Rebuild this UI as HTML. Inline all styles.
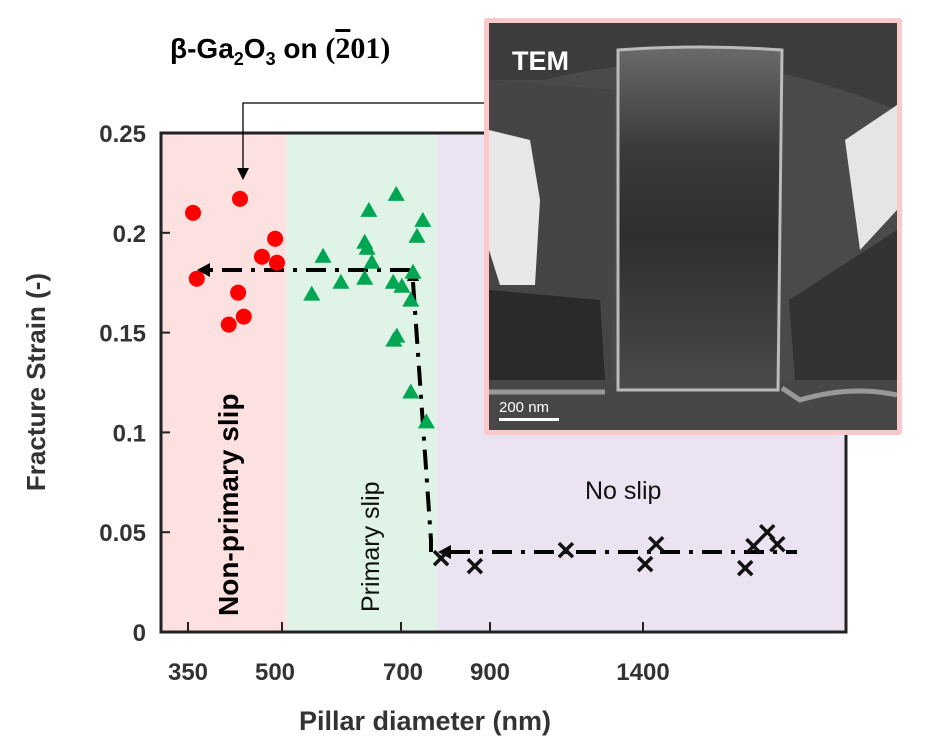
<!DOCTYPE html>
<html><head><meta charset="utf-8"><style>
body{margin:0;background:#fff;width:929px;height:756px;overflow:hidden;font-family:"Liberation Sans",sans-serif}
svg{position:absolute;left:0;top:0}
</style></head><body>
<svg width="929" height="756">
<defs>
<linearGradient id="pill" x1="0" y1="0" x2="0" y2="1"><stop offset="0" stop-color="#6a6a6a"/><stop offset="0.3" stop-color="#3a3a3a"/><stop offset="0.55" stop-color="#2e2e2e"/><stop offset="1" stop-color="#4a4a4a"/></linearGradient>
</defs>
<g id="bands"></g>
<g id="lines"></g>
<g id="marks"></g>
<rect x="161" y="133" width="685" height="499" fill="none" stroke="#222" stroke-width="3"/>
<g id="axes" font-size="24" font-weight="bold" fill="#333"></g>
<text x="425" y="730" text-anchor="middle" font-size="27" font-weight="bold" fill="#333">Pillar diameter (nm)</text>
<text transform="translate(45,382) rotate(-90)" text-anchor="middle" font-size="26" font-weight="bold" fill="#333">Fracture Strain (-)</text>
<text transform="translate(238,616) rotate(-90)" font-size="28" font-weight="bold" fill="#000">Non-primary slip</text>
<text transform="translate(379,612) rotate(-90)" font-size="25" fill="#111">Primary slip</text>
<text x="585" y="499" font-size="25" fill="#111">No slip</text>
<text x="170" y="58" font-size="28" font-weight="bold" fill="#000">β-Ga<tspan font-size="18" dy="7">2</tspan><tspan dy="-7">O</tspan><tspan font-size="18" dy="7">3</tspan><tspan dy="-7"> on </tspan><tspan font-family="Liberation Serif,serif" font-size="30">(<tspan text-decoration="overline">2</tspan>01)</tspan></text>
<polyline points="498,103 243,103 243,170" fill="none" stroke="#000" stroke-width="1.3"/>
<polygon points="237,168 249,168 243,180" fill="#000"/>
<g>
<rect x="484" y="18" width="418" height="417" fill="#fbc9c9" rx="3"/>
<rect x="489" y="23" width="408" height="407" fill="#4a4a4a"/>
<path d="M489 23 H897 V110 Q800 70 700 60 Q600 65 545 80 L489 80Z" fill="#3c3c3c"/>
<path d="M489 80 L615 90 L612 380 L489 390Z" fill="#454545"/>
<path d="M489 130 L530 140 L540 200 L535 285 L500 285 L489 250Z" fill="#e8e8e8"/>
<path d="M489 290 L600 300 L605 380 L489 380Z" fill="#2a2a2a"/>
<path d="M789 300 L897 230 L897 380 L795 380Z" fill="#333"/>
<path d="M845 140 L897 105 L897 210 L860 250Z" fill="#e5e5e5"/>
<rect x="489" y="380" width="408" height="50" fill="#474747"/>
<path d="M618 50 Q700 44 782 50 L778 390 L618 390Z" fill="url(#pill)" stroke="#bbb" stroke-width="3"/>
<path d="M489 392 H605 M782 388 L800 400 Q850 385 897 395" stroke="#999" stroke-width="5" fill="none"/>
<text x="512" y="70" font-size="27" font-weight="bold" fill="#fff">TEM</text>
<text x="499" y="412" font-size="15" fill="#fff">200 nm</text>
<rect x="499" y="418" width="60" height="3" fill="#fff"/>
</g>
</svg>
<script>
const circleX=[358,364,433,489,468,492,430,439,415];
const circleY=[0.210,0.177,0.217,0.197,0.188,0.185,0.170,0.158,0.154];
const triX=[692,646,749,736,639,643,569,651,727,639,599,687,702,550,722,693,688,722,757];
const triY=[0.219,0.211,0.206,0.198,0.195,0.192,0.188,0.185,0.180,0.177,0.175,0.175,0.173,0.169,0.166,0.148,0.146,0.120,0.105];
const crossX=[790,866,1148,1407,1443,1734,1761,1806,1839];
const crossY=[0.037,0.033,0.041,0.034,0.044,0.032,0.043,0.050,0.044];
const xTicks=[350,500,700,900,1400];
const yTicks=[0,0.05,0.1,0.15,0.2,0.25];
const yTickLabels=["0","0.05","0.1","0.15","0.2","0.25"];
const regionBounds=[0,508,781,9999];
const knotsV=[350,500,700,900,1400];
const knotsP=[188,282,401,490,643];
function xs(v){let i=0;while(i<knotsV.length-2&&v>knotsV[i+1])i++;if(v<knotsV[0])i=0;return knotsP[i]+(v-knotsV[i])*(knotsP[i+1]-knotsP[i])/(knotsV[i+1]-knotsV[i]);}
function ys(v){return 632-v*1996;}
const NS="http://www.w3.org/2000/svg";
function mk(tag,attrs,parent){const e=document.createElementNS(NS,tag);for(const k in attrs)e.setAttribute(k,attrs[k]);document.getElementById(parent).appendChild(e);return e;}
const bandCols=["#fde0e0","#dff3e6","#ebe3f1"];
const bandNames=["non-primary-slip-region","primary-slip-region","no-slip-region"];
for(let i=0;i<3;i++){const l=Math.max(161,Math.min(846,xs(regionBounds[i]))),r=Math.max(161,Math.min(846,xs(regionBounds[i+1])));
const e=mk('rect',{x:i==0?161:l,y:133,width:(i==0?r-161:r-l),height:499,fill:bandCols[i]},'bands');

}
yTicks.forEach((v,i)=>{const y=ys(v);
const t=mk('line',{x1:161,x2:170,y1:y,y2:y,stroke:'#222','stroke-width':2},'axes');


const tx=mk('text',{x:146,y:y+9,'text-anchor':'end'},'axes');tx.textContent=yTickLabels[i];

});
xTicks.forEach(v=>{const x=xs(v);
const t=mk('line',{x1:x,x2:x,y1:622,y2:632,stroke:'#222','stroke-width':2},'axes');


const tx=mk('text',{x:x-(v==500?7:0)+(v==700?2:0),y:680,'text-anchor':'middle'},'axes');tx.textContent=v;

});
const dd={stroke:'#000','stroke-width':4,'stroke-dasharray':'20,9,4,9',fill:'none'};
let g=mk('polyline',Object.assign({points:'410,270 208,270'},dd),'lines');


g=mk('polygon',{points:'197,270 210,263 210,277',fill:'#000'},'lines');


g=mk('polyline',Object.assign({points:'413,282 431,540 431,552'},dd),'lines');


g=mk('polygon',{points:'413,267 407,281 419,281',fill:'#000'},'lines');


g=mk('polyline',Object.assign({points:'450,552 797,552'},dd),'lines');


g=mk('polygon',{points:'438,552 451,545 451,559',fill:'#000'},'lines');


circleX.forEach((v,i)=>{const c=mk('circle',{cx:xs(v),cy:ys(circleY[i]),r:8,fill:'#f00'},'marks');

});
triX.forEach((v,i)=>{const x=xs(v),y=ys(triY[i]);const p=mk('polygon',{points:`${x},${y-9} ${x-8.5},${y+6} ${x+8.5},${y+6}`,fill:'#00a651'},'marks');

});
crossX.forEach((v,i)=>{const x=xs(v),y=ys(crossY[i]);const p=mk('path',{d:`M${x-7},${y-7}L${x+7},${y+7}M${x+7},${y-7}L${x-7},${y+7}`,stroke:'#111','stroke-width':3.5},'marks');

});
</script>
</body></html>
